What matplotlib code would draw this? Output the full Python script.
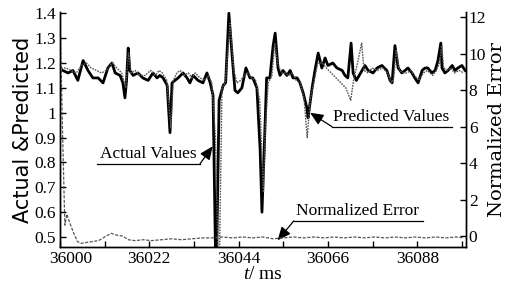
import matplotlib
matplotlib.use("Agg")
import matplotlib.pyplot as plt
from matplotlib.ticker import FixedLocator, FuncFormatter
from matplotlib.transforms import ScaledTranslation

plt.rcParams["font.family"] = ["Liberation Serif", "DejaVu Serif"]
plt.rcParams["mathtext.fontset"] = "custom"
plt.rcParams["mathtext.it"] = "Liberation Serif:italic"
plt.rcParams["mathtext.rm"] = "Liberation Serif"

# actual values (left axis)
actual_t = [36000.7, 36002.0, 36003.2, 36004.4, 36005.7, 36006.9, 36008.1, 36009.4, 36010.6, 36011.8,
            36012.8, 36013.6, 36014.8, 36015.5, 36016.0, 36016.4, 36016.8, 36017.2, 36018.0, 36019.2,
            36020.4, 36021.7, 36022.9, 36023.9, 36024.6, 36025.4, 36026.4, 36027.1, 36027.6, 36028.3,
            36029.1, 36030.3, 36031.3, 36032.0, 36032.8, 36034.0, 36035.2, 36036.2, 36037.0, 36037.7,
            36038.3, 36038.6, 36039.2, 36040.2, 36040.8, 36041.6, 36042.4, 36043.1, 36043.8, 36044.8,
            36045.8, 36046.8, 36047.5, 36048.5, 36049.3, 36049.75, 36050.3, 36050.9, 36051.7, 36052.5,
            36053.0, 36053.7, 36054.2, 36054.9, 36055.9, 36056.7, 36057.4, 36058.4, 36059.1, 36059.9,
            36060.8, 36061.1, 36062.1, 36062.8, 36063.6, 36064.5, 36065.3, 36066.0, 36067.2, 36068.2,
            36069.5, 36070.2, 36070.9, 36071.7, 36072.2, 36073.0, 36073.7, 36074.4, 36075.1, 36075.9,
            36077.1, 36078.1, 36079.3, 36080.5, 36081.3, 36081.8, 36082.5, 36083.3, 36084.2, 36085.0,
            36085.7, 36086.7, 36087.4, 36088.2, 36089.2, 36089.9, 36090.6, 36091.6, 36092.4, 36093.1,
            36093.8, 36094.1, 36094.8, 36095.6, 36096.6, 36097.3, 36098.0, 36099.0, 36099.8]
actual_v = [1.17, 1.16, 1.17, 1.13, 1.21, 1.17, 1.14, 1.14, 1.12, 1.18,
            1.20, 1.16, 1.15, 1.12, 1.06, 1.13, 1.26, 1.17, 1.15, 1.16,
            1.14, 1.13, 1.16, 1.14, 1.15, 1.14, 1.11, 0.92, 1.12, 1.13,
            1.14, 1.16, 1.14, 1.12, 1.15, 1.13, 1.12, 1.16, 1.12, 1.07,
            0.44, 0.44, 1.05, 1.11, 1.12, 1.40, 1.23, 1.09, 1.08, 1.10,
            1.18, 1.14, 1.14, 1.10, 0.85, 0.60, 0.85, 1.14, 1.14, 1.27,
            1.32, 1.18, 1.15, 1.17, 1.15, 1.17, 1.14, 1.14, 1.12, 1.08,
            1.02, 0.98, 1.10, 1.17, 1.24, 1.18, 1.22, 1.19, 1.20, 1.18,
            1.17, 1.15, 1.14, 1.28, 1.16, 1.13, 1.15, 1.17, 1.19, 1.17,
            1.16, 1.18, 1.19, 1.17, 1.13, 1.12, 1.27, 1.18, 1.16, 1.17,
            1.18, 1.16, 1.14, 1.12, 1.17, 1.18, 1.18, 1.16, 1.17, 1.21,
            1.28, 1.18, 1.16, 1.17, 1.19, 1.17, 1.18, 1.19, 1.17]

# predicted values (left axis)
pred_t = [36000.3, 36001.5, 36002.7, 36004.0, 36005.3, 36006.5, 36007.7, 36009.0, 36010.2, 36011.5,
          36012.9, 36014.0, 36015.2, 36016.2, 36016.9, 36017.5, 36018.5, 36019.7, 36021.0, 36022.3,
          36023.5, 36024.4, 36025.2, 36026.3, 36027.3, 36027.9, 36028.8, 36029.6, 36030.6, 36031.6,
          36032.5, 36033.3, 36034.5, 36035.6, 36036.6, 36037.4, 36038.3, 36038.9, 36039.3, 36039.9,
          36040.7, 36041.9, 36042.8, 36043.6, 36044.5, 36045.4, 36046.3, 36047.2, 36048.2, 36049.2,
          36050.1, 36050.6, 36051.3, 36052.2, 36052.9, 36053.6, 36054.5, 36055.4, 36056.4, 36057.2,
          36058.2, 36059.2, 36060.1, 36060.9, 36061.6, 36062.5, 36063.5, 36064.6, 36065.6, 36066.8,
          36068.0, 36069.2, 36070.4, 36071.6, 36072.4, 36073.3, 36074.3, 36074.9, 36075.9, 36076.9,
          36078.2, 36079.5, 36080.7, 36081.6, 36082.2, 36082.8, 36083.6, 36084.6, 36085.5, 36086.4,
          36087.3, 36088.4, 36089.5, 36090.5, 36091.8, 36092.7, 36093.5, 36094.0, 36094.5, 36095.3,
          36096.2, 36097.2, 36098.3, 36099.5]
pred_v = [1.18, 1.18, 1.17, 1.16, 1.19, 1.20, 1.18, 1.17, 1.16, 1.17,
          1.20, 1.18, 1.16, 1.10, 1.24, 1.16, 1.17, 1.15, 1.15, 1.17,
          1.15, 1.17, 1.16, 1.13, 0.94, 1.13, 1.16, 1.17, 1.15, 1.16,
          1.14, 1.16, 1.14, 1.13, 1.15, 1.12, 0.90, 0.44, 0.44, 1.10,
          1.12, 1.36, 1.17, 1.12, 1.13, 1.15, 1.16, 1.14, 1.13, 1.05,
          0.68, 0.95, 1.12, 1.15, 1.28, 1.20, 1.16, 1.16, 1.15, 1.16,
          1.13, 1.12, 1.06, 0.90, 1.05, 1.12, 1.20, 1.20, 1.18, 1.16,
          1.14, 1.12, 1.10, 1.05, 1.14, 1.20, 1.28, 1.17, 1.16, 1.18,
          1.17, 1.18, 1.16, 1.12, 1.14, 1.25, 1.17, 1.16, 1.16, 1.17,
          1.15, 1.13, 1.16, 1.17, 1.15, 1.17, 1.20, 1.27, 1.18, 1.17,
          1.18, 1.16, 1.17, 1.16]

# normalized error (right axis)
err_t = [36000.0, 36000.6, 36001.2, 36001.7, 36002.3, 36003.3, 36004.3, 36005.2, 36006.5, 36008.0,
         36009.5, 36011.0, 36012.6, 36014.0, 36015.5, 36016.8, 36018.5, 36020.5, 36022.5, 36025.0,
         36027.5, 36030.0, 36032.5, 36035.0, 36037.5, 36040.0, 36042.5, 36045.0, 36047.5, 36050.0,
         36052.5, 36055.0, 36057.5, 36060.0, 36062.5, 36065.0, 36067.5, 36070.0, 36072.5, 36075.0,
         36077.5, 36080.0, 36082.5, 36085.0, 36087.5, 36090.0, 36092.5, 36095.0, 36097.5, 36099.5]
err_v = [12.4, 6.0, 0.6, 1.2, 0.8, 0.2, -0.3, -0.4, -0.35, -0.3,
         -0.25, -0.05, 0.15, 0.05, 0.0, -0.2, -0.25, -0.2, -0.25, -0.2,
         -0.15, -0.2, -0.15, -0.1, -0.1, -0.05, -0.1, -0.05, -0.1, -0.05,
         -0.15, -0.1, -0.05, -0.1, -0.05, -0.1, -0.05, -0.1, -0.05, -0.1,
         -0.05, -0.1, -0.05, -0.1, -0.05, -0.1, -0.05, -0.1, -0.05, -0.1]

x_major = [36000, 36022, 36044, 36066, 36088]
x_minor = [36011, 36033, 36055, 36077, 36099]
left_ticks = [0.5, 0.6, 0.7, 0.8, 0.9, 1.0, 1.1, 1.2, 1.3, 1.4]
right_ticks = [0, 2, 4, 6, 8, 10, 12]

fig = plt.figure(figsize=(5.07, 2.89), dpi=100)
ax = fig.add_axes([0.1183, 0.1453, 0.8008, 0.8131])
ax2 = ax.twinx()

ax.plot(actual_t, actual_v, color="black", lw=2.0, zorder=3)
ax.plot(pred_t, pred_v, color="#555555", lw=1.0, ls=(0, (1.2, 0.8)), zorder=4)
ax2.plot(err_t, err_v, color="#555555", lw=0.9, ls=(0, (2.5, 1.2)))

ax.set_xlim(36000, 36100)
ax.set_ylim(0.46, 1.405)
ax2.set_ylim(-0.6, 12.3)

ax.xaxis.set_major_locator(FixedLocator(x_major))
ax.xaxis.set_minor_locator(FixedLocator(x_minor))
ax.set_yticks(left_ticks)
ax.yaxis.set_major_formatter(FuncFormatter(lambda v, p: f"{v:g}"))
ax2.set_yticks(right_ticks)

ax.spines["top"].set_visible(False)
ax2.spines["top"].set_visible(False)
for a in (ax, ax2):
    for s in a.spines.values():
        s.set_linewidth(1.0)

ax.tick_params(axis="both", which="both", direction="in", labelsize=12.5, length=4, width=1)
ax.tick_params(axis="y", pad=3)
ax.tick_params(axis="x", pad=3)
ax2.tick_params(axis="y", direction="in", labelsize=12.5, length=4, width=1, pad=2)

# first x label sits a bit to the right
first = ax.xaxis.get_major_ticks()[0].label1
first.set_transform(first.get_transform() + ScaledTranslation(8 / 72, 0, fig.dpi_scale_trans))

ax.set_xlabel(r"$t$/ ms", fontsize=14, labelpad=-1)
ax.set_ylabel("Actual &Predicted", fontsize=15, family=["DejaVu Sans"], labelpad=1)
ax2.set_ylabel("Normalized Error", fontsize=14, family=["DejaVu Serif"], labelpad=1)

arrow_kw = dict(arrowstyle="-|>,head_length=0.8,head_width=0.35", color="black", lw=0.9,
                shrinkA=0, shrinkB=0)
note_size = 12.5

# Actual Values
ax.plot([36009.1, 36034.5], [0.795, 0.795], color="black", lw=0.9, zorder=5)
ax.annotate("", xy=(36037.6, 0.865), xytext=(36034.5, 0.795), arrowprops=arrow_kw, zorder=5)
ax.text(36021.8, 0.803, "Actual Values", ha="center", va="bottom", fontsize=note_size, zorder=5)

# Predicted Values
ax.plot([36067.0, 36096.6], [0.944, 0.944], color="black", lw=0.9, zorder=5)
ax.annotate("", xy=(36061.6, 1.0), xytext=(36067.0, 0.944), arrowprops=arrow_kw, zorder=5)
ax.text(36081.6, 0.952, "Predicted Values", ha="center", va="bottom", fontsize=note_size, zorder=5)

# Normalized Error
ax.plot([36057.6, 36089.4], [0.565, 0.565], color="black", lw=0.9, zorder=5)
ax.annotate("", xy=(36053.6, 0.487), xytext=(36057.6, 0.565), arrowprops=arrow_kw, zorder=5)
ax.text(36073.4, 0.573, "Normalized Error", ha="center", va="bottom", fontsize=note_size, zorder=5)

fig.savefig("out.png", dpi=100)
